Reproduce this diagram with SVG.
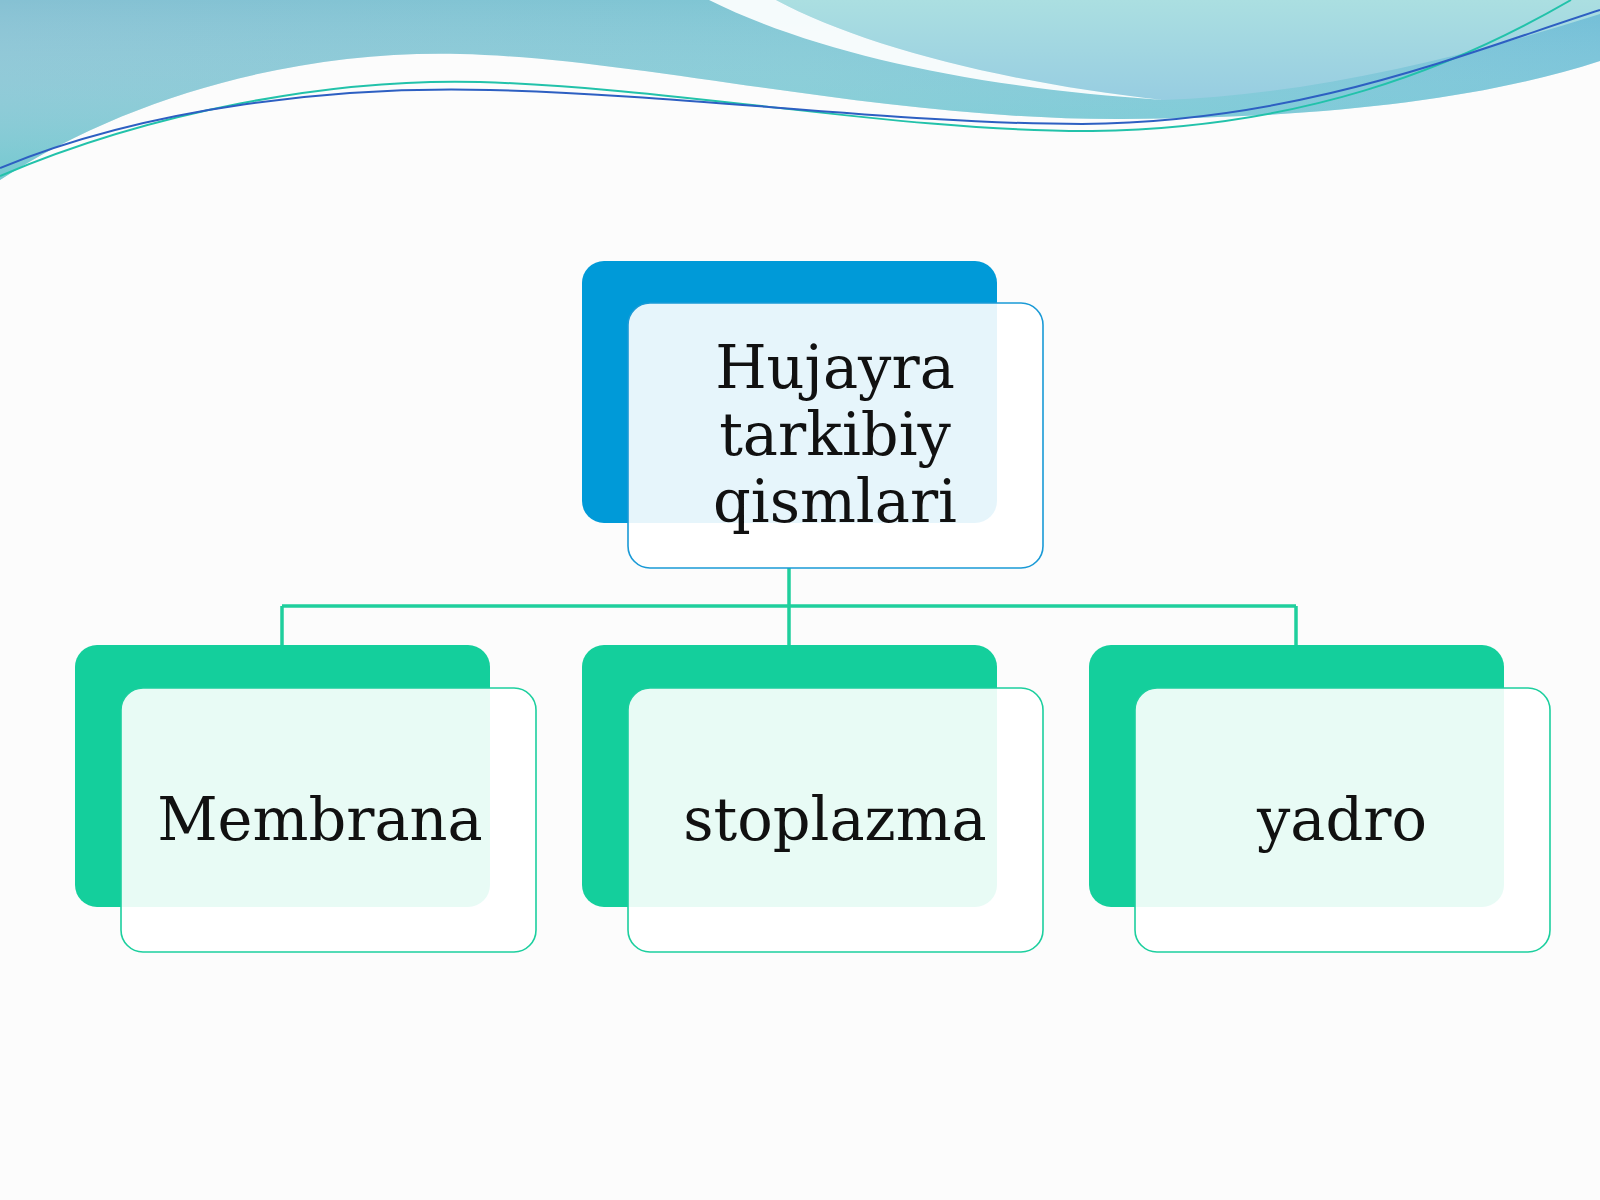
<svg xmlns="http://www.w3.org/2000/svg" width="1600" height="1200" viewBox="0 0 1600 1200">
<defs>
<linearGradient id="band" x1="0" y1="0" x2="1" y2="0">
<stop offset="0" stop-color="#86c1d3"/>
<stop offset="0.5" stop-color="#7fc6d4"/>
<stop offset="1" stop-color="#6fbdd6"/>
</linearGradient>
<linearGradient id="bandV" x1="0" y1="0" x2="0" y2="1">
<stop offset="0" stop-color="#ffffff" stop-opacity="0"/>
<stop offset="1" stop-color="#5fd0cc" stop-opacity="0.5"/>
</linearGradient>
<linearGradient id="light" x1="0" y1="0" x2="0" y2="1">
<stop offset="0" stop-color="#abdfe1"/>
<stop offset="1" stop-color="#97cde1"/>
</linearGradient>
</defs>
<style>
.back-blue{fill:#009ad8}
.back-green{fill:#14cf9c}
.front{fill:#ffffff;fill-opacity:0.9;stroke-width:1.6}
.front-blue{stroke:#1a9ad6}
.front-green{stroke:#1ccf9e}
.lbl{font-family:"DejaVu Serif","Liberation Serif",serif;font-size:59px;fill:#111111;text-anchor:middle}
.conn{fill:none;stroke:#1fcf9d;stroke-width:3.5}
</style>
<rect x="0" y="0" width="1600" height="1200" fill="#fcfcfc"/>
<g id="header">
<path d="M0,180 C130,95 300,50 460,54 C640,58 880,120 1122,119 C1320,118 1480,100 1600,61 V0 H0 Z" fill="url(#band)"/>
<path d="M0,180 C130,95 300,50 460,54 C640,58 880,120 1122,119 C1320,118 1480,100 1600,61 V0 H0 Z" fill="url(#bandV)"/>
<path d="M776,0 H1600 V14 C1450,62 1300,95 1163,100 C1000,82 860,45 776,0 Z" fill="url(#light)"/>
<path d="M709,0 H776 C860,45 1000,82 1163,100 C980,88 820,55 709,0 Z" fill="#ffffff" fill-opacity="0.92"/>
<path d="M0,176 C150,112 330,78 480,82 C680,88 900,132 1092,131 C1300,128 1450,70 1571,0" fill="none" stroke="#22c2aa" stroke-width="2"/>
<path d="M0,168 C150,106 340,86 490,90 C690,95 900,124 1082,124 C1300,122 1460,55 1600,10" fill="none" stroke="#2d5fc2" stroke-width="2"/>
</g>
<g id="connectors">
<path class="conn" d="M789,568 V645"/>
<path class="conn" d="M282,606 H1296"/>
<path class="conn" d="M282,606 V645"/>
<path class="conn" d="M1296,606 V645"/>
</g>
<g id="node-root">
<rect class="back-blue" x="582" y="261" width="415" height="262" rx="22"/>
<rect class="front front-blue" x="628" y="303" width="415" height="265" rx="22"/>
<text class="lbl" x="835" y="388">Hujayra</text>
<text class="lbl" x="835" y="455">tarkibiy</text>
<text class="lbl" x="835" y="522">qismlari</text>
</g>
<g id="node-membrana">
<rect class="back-green" x="75" y="645" width="415" height="262" rx="22"/>
<rect class="front front-green" x="121" y="688" width="415" height="264" rx="22"/>
<text class="lbl" x="320" y="840">Membrana</text>
</g>
<g id="node-stoplazma">
<rect class="back-green" x="582" y="645" width="415" height="262" rx="22"/>
<rect class="front front-green" x="628" y="688" width="415" height="264" rx="22"/>
<text class="lbl" x="835" y="840">stoplazma</text>
</g>
<g id="node-yadro">
<rect class="back-green" x="1089" y="645" width="415" height="262" rx="22"/>
<rect class="front front-green" x="1135" y="688" width="415" height="264" rx="22"/>
<text class="lbl" x="1342" y="840">yadro</text>
</g>
</svg>
